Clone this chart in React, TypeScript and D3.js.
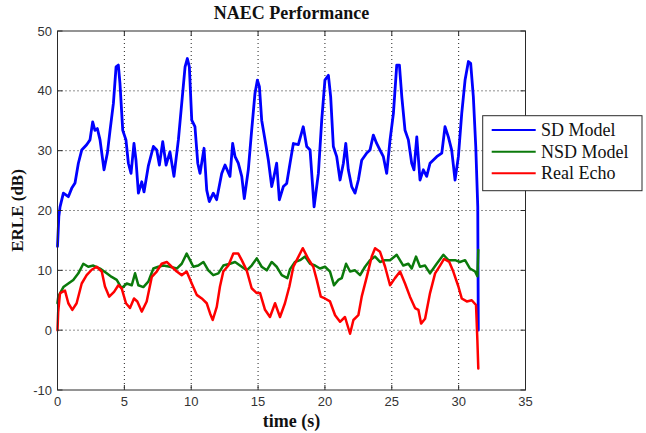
import React from "react";
import * as d3 from "d3";

// ---- data (time in s, ERLE in dB) ----
const sdTime = [0, 0.1, 0.19, 0.44, 0.81, 1.06, 1.31, 1.56, 1.81, 2.18, 2.43, 2.63, 2.8, 2.98, 3.18, 3.48, 3.73, 3.93, 4.18, 4.38, 4.55, 4.67, 4.88, 5.12, 5.3, 5.5, 5.72, 5.87, 6.05, 6.3, 6.47, 6.79, 7.17, 7.42, 7.62, 7.87, 8.12, 8.41, 8.71, 9.04, 9.29, 9.54, 9.71, 9.86, 10.04, 10.28, 10.49, 10.66, 10.96, 11.16, 11.35, 11.65, 11.9, 12.28, 12.53, 12.9, 13.1, 13.28, 13.52, 13.78, 13.97, 14.27, 14.52, 14.77, 14.95, 15.1, 15.27, 15.52, 15.77, 16.02, 16.19, 16.39, 16.59, 16.89, 17.14, 17.39, 17.64, 18.01, 18.38, 18.64, 18.89, 19.19, 19.51, 19.76, 20.0, 20.26, 20.43, 20.63, 20.88, 21.13, 21.38, 21.56, 21.75, 22.0, 22.25, 22.5, 22.75, 23.13, 23.37, 23.62, 23.87, 24.12, 24.37, 24.62, 24.87, 25.12, 25.37, 25.57, 25.75, 25.99, 26.24, 26.49, 26.66, 26.87, 27.11, 27.36, 27.61, 27.86, 28.36, 28.74, 28.98, 29.23, 29.48, 29.73, 29.98, 30.23, 30.48, 30.73, 30.9, 31.1, 31.28, 31.43, 31.47];
const sdValues = [14, 19, 20.6, 22.9, 22.3, 23.7, 24.6, 27.9, 30.1, 31, 31.8, 34.8, 33.4, 33.7, 31.8, 26.8, 29.6, 33.4, 37.9, 44.0, 44.3, 41.3, 33.4, 31.8, 27.9, 26.2, 31.2, 28.4, 22.9, 24.8, 23.1, 27.4, 30.7, 30.1, 27.6, 31.5, 27.6, 29.8, 25.7, 31.8, 37.9, 44.0, 45.4, 44.0, 35.1, 34.0, 27.9, 26.2, 30.4, 23.4, 21.5, 22.9, 21.8, 26.2, 27.6, 25.7, 31.2, 29.0, 27.9, 25.7, 22.0, 26.8, 33.4, 39.6, 41.8, 40.7, 35.1, 31.8, 28.4, 24.0, 25.7, 27.9, 21.8, 24.0, 24.5, 27.9, 31.2, 31, 34.0, 30.7, 30.1, 20.6, 26.2, 35.1, 41.8, 42.6, 39.0, 30.7, 29.0, 25.1, 27.9, 31.2, 26.8, 24.0, 22.9, 25.1, 28.4, 29.6, 30.1, 32.6, 31.2, 30.1, 29.0, 26.2, 31.8, 36.2, 44.3, 44.3, 39.0, 33.4, 31.8, 27.9, 26.8, 32.3, 25.1, 26.8, 25.7, 27.9, 29.0, 29.6, 34.0, 32.3, 30.1, 25.1, 29.0, 36.2, 41.8, 44.9, 44.6, 39.0, 30.7, 20.6, 0];

const nsdTime = [0, 0.06, 0.44, 0.81, 1.18, 1.56, 1.93, 2.3, 2.68, 3.18, 3.68, 4.05, 4.43, 4.8, 5.18, 5.55, 5.8, 6.05, 6.42, 6.79, 7.17, 7.54, 7.91, 8.41, 8.92, 9.29, 9.66, 9.91, 10.16, 10.53, 10.91, 11.28, 11.65, 12.03, 12.4, 12.9, 13.28, 13.78, 14.15, 14.52, 14.9, 15.27, 15.65, 16.02, 16.39, 16.77, 17.19, 17.39, 17.76, 18.14, 18.51, 18.89, 19.26, 19.63, 20.01, 20.38, 20.68, 21.0, 21.26, 21.58, 21.88, 22.25, 22.63, 23.0, 23.37, 23.75, 24.12, 24.5, 24.87, 25.37, 25.86, 26.24, 26.49, 26.81, 27.11, 27.49, 27.86, 28.36, 28.86, 29.23, 29.73, 30.1, 30.48, 30.85, 31.23, 31.4, 31.47];
const nsdValues = [4.5, 5.6, 7.2, 7.8, 8.4, 9.5, 11.1, 10.6, 10.8, 10.3, 9.5, 8.9, 8.4, 7.0, 7.8, 7.5, 9.5, 7.5, 7.2, 8.1, 10.3, 10.6, 10.8, 10.6, 10.3, 11.1, 12.8, 11.7, 10.6, 10.8, 11.4, 10.0, 9.2, 9.5, 10.8, 11.1, 11.4, 10.6, 10.0, 10.8, 12.0, 10.6, 10.0, 11.4, 10.6, 9.2, 8.7, 10.2, 11.4, 11.7, 12.3, 11.1, 10.8, 10.3, 10.6, 9.8, 7.5, 8.4, 8.7, 11.1, 9.8, 10.0, 9.2, 10.6, 11.7, 12.3, 11.4, 11.7, 11.7, 12.6, 10.8, 11.1, 10.3, 12.3, 10.6, 10.8, 9.5, 11.1, 12.6, 11.7, 11.7, 11.4, 11.7, 10.3, 9.8, 9.0, 13.4];

const echoTime = [0, 0.05, 0.19, 0.56, 0.81, 1.11, 1.43, 1.81, 2.18, 2.56, 2.93, 3.31, 3.55, 3.87, 4.23, 4.55, 4.8, 5.12, 5.42, 5.72, 5.97, 6.3, 6.67, 7.05, 7.42, 7.79, 8.17, 8.54, 8.92, 9.29, 9.66, 10.04, 10.41, 10.79, 11.16, 11.41, 11.61, 11.91, 12.15, 12.4, 12.78, 13.15, 13.52, 13.78, 14.15, 14.52, 14.9, 15.15, 15.52, 15.89, 16.27, 16.64, 17.01, 17.34, 17.64, 17.89, 18.34, 18.76, 19.13, 19.39, 19.69, 20.0, 20.38, 20.76, 21.13, 21.5, 21.88, 22.13, 22.5, 22.75, 23.13, 23.5, 23.75, 24.12, 24.5, 24.87, 25.24, 25.62, 25.99, 26.36, 26.74, 26.99, 27.19, 27.49, 27.86, 28.24, 28.61, 28.91, 29.3, 29.6, 29.98, 30.23, 30.61, 30.98, 31.3, 31.4, 31.47];
const echoValues = [0, 3, 6.2, 6.6, 4.5, 3.4, 4.5, 7.8, 9.2, 10.1, 10.6, 9.8, 7.3, 5.6, 6.4, 7.5, 7.0, 4.5, 3.7, 5.3, 4.8, 3.1, 4.8, 8.9, 9.8, 11.1, 11.4, 10.6, 9.8, 9.2, 9.8, 7.8, 5.9, 5.3, 4.5, 2.8, 1.7, 3.9, 7.3, 9.8, 10.8, 12.8, 12.8, 11.7, 10.0, 7.0, 6.2, 6.2, 3.4, 2.2, 4.5, 2.2, 4.5, 7.3, 10.6, 11.7, 13.7, 11.9, 10.6, 8.4, 5.6, 5.3, 4.8, 2.5, 1.4, 2.2, -0.6, 1.7, 2.5, 5.6, 8.9, 12.3, 13.7, 13.1, 10.6, 7.5, 8.7, 9.8, 7.8, 5.6, 3.7, 3.4, 1.1, 1.9, 6.2, 9.5, 10.8, 11.9, 11.4, 9.8, 7.3, 5.3, 4.8, 5.0, 4.2, -1.6, -6.4];

const xTicks = [0, 5, 10, 15, 20, 25, 30, 35];
const yTicks = [-10, 0, 10, 20, 30, 40, 50];
const seriesNames = ["SD Model", "NSD Model", "Real Echo"];
const seriesColors = ["#0000ff", "#0b7a0b", "#ff0000"];

const W = 646, H = 433;
const M = { left: 57.5, right: 525.5, top: 31, bottom: 390 };
const SERIF = "Liberation Serif";
const SANS = "Liberation Sans";

export default function App() {
  const x = d3.scaleLinear().domain([0, 35]).range([M.left, M.right]);
  const y = d3.scaleLinear().domain([-10, 50]).range([M.bottom, M.top]);
  const line = d3.line<[number, number]>().x(d => x(d[0])).y(d => y(d[1]));
  const series = [
    sdTime.map((t, i) => [t, sdValues[i]] as [number, number]),
    nsdTime.map((t, i) => [t, nsdValues[i]] as [number, number]),
    echoTime.map((t, i) => [t, echoValues[i]] as [number, number]),
  ];
  const widths = [2.8, 2.5, 2.5];
  const axisColor = "#2a2a2a";
  const tickLen = 5;
  const lg = { x: 482.7, y: 115.7, w: 159.3, h: 75 };
  return (
    <svg width={W} height={H} style={{ position: "absolute", left: 0, top: 0, background: "#fff" }}>
      <rect x={0} y={0} width={W} height={H} fill="#fff" />
      {xTicks.filter(t => t > 0 && t < 35).map(t => (
        <line key={"gx" + t} x1={x(t)} x2={x(t)} y1={M.top} y2={M.bottom} stroke="#222" strokeWidth={1} strokeDasharray="1,3" />
      ))}
      {yTicks.filter(t => t > -10 && t < 50).map(t => (
        <line key={"gy" + t} x1={M.left} x2={M.right} y1={y(t)} y2={y(t)} stroke="#222" strokeWidth={1} strokeDasharray="1,3" />
      ))}
      <g fill="none" strokeLinejoin="round" strokeLinecap="round">
        {series.map((s, i) => (
          <path key={i} d={line(s) || ""} stroke={seriesColors[i]} strokeWidth={widths[i]} />
        ))}
      </g>
      <rect x={M.left} y={M.top} width={M.right - M.left} height={M.bottom - M.top} fill="none" stroke={axisColor} strokeWidth={1} />
      {xTicks.map(t => (
        <g key={"tx" + t}>
          <line x1={x(t)} x2={x(t)} y1={M.bottom} y2={M.bottom - tickLen} stroke={axisColor} />
          <line x1={x(t)} x2={x(t)} y1={M.top} y2={M.top + tickLen} stroke={axisColor} />
          <text x={x(t)} y={406} textAnchor="middle" fontFamily={SANS} fontSize={13} fill="#333">{t}</text>
        </g>
      ))}
      {yTicks.map(t => (
        <g key={"ty" + t}>
          <line x1={M.left} x2={M.left + tickLen} y1={y(t)} y2={y(t)} stroke={axisColor} />
          <line x1={M.right} x2={M.right - tickLen} y1={y(t)} y2={y(t)} stroke={axisColor} />
          <text x={52} y={y(t) + 4.5} textAnchor="end" fontFamily={SANS} fontSize={13} fill="#333">{t}</text>
        </g>
      ))}
      <text x={(M.left + M.right) / 2} y={18.5} textAnchor="middle" fontFamily={SERIF} fontWeight="bold" fontSize={18} fill="#111">NAEC Performance</text>
      <text x={(M.left + M.right) / 2} y={427} textAnchor="middle" fontFamily={SERIF} fontWeight="bold" fontSize={18} fill="#111">time (s)</text>
      <text transform={`translate(22.7, ${(M.top + M.bottom) / 2}) rotate(-90)`} textAnchor="middle" fontFamily={SERIF} fontWeight="bold" fontSize={17} fill="#111">ERLE (dB)</text>
      <rect x={lg.x} y={lg.y} width={lg.w} height={lg.h} fill="#fff" stroke={axisColor} strokeWidth={1} />
      {seriesNames.map((n, i) => (
        <g key={n}>
          <line x1={491.7} x2={535.7} y1={130 + i * 21.65} y2={130 + i * 21.65} stroke={seriesColors[i]} strokeWidth={2} />
          <text x={541} y={136 + i * 21.65} fontFamily={SERIF} fontSize={18} fill="#111">{n}</text>
        </g>
      ))}
    </svg>
  );
}
